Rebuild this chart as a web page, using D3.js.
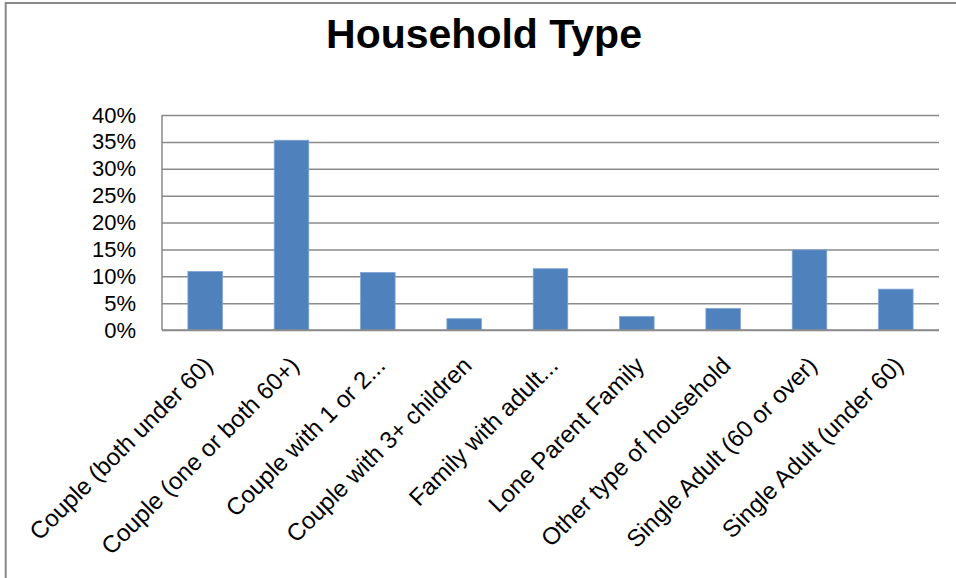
<!DOCTYPE html>
<html>
<head>
<meta charset="utf-8">
<script src="https://cdn.jsdelivr.net/npm/d3@7"></script>
<style>
  html, body { margin: 0; padding: 0; background: #fff; }
  svg { display: block; }
</style>
</head>
<body>
<svg id="chart" width="956" height="578"></svg>
<script>
const title = "Household Type";
const categories = [
  "Couple (both under 60)",
  "Couple (one or both 60+)",
  "Couple with 1 or 2...",
  "Couple with 3+ children",
  "Family with adult...",
  "Lone Parent Family",
  "Other type of household",
  "Single Adult (60 or over)",
  "Single Adult (under 60)"
];
const values = [0.109, 0.353, 0.107, 0.021, 0.114, 0.025, 0.040, 0.149, 0.076];
const yTicks = [0, 0.05, 0.10, 0.15, 0.20, 0.25, 0.30, 0.35, 0.40];

const svg = d3.select("#chart");
const W = 956, H = 578;
const plot = { left: 162, right: 939, top: 115, bottom: 330 };
const font = "'Liberation Sans', Arial, sans-serif";

// outer border
svg.append("rect")
  .attr("x", 5.7).attr("y", 3).attr("width", W + 20).attr("height", H + 20)
  .attr("fill", "#fff").attr("stroke", "#888").attr("stroke-width", 2);

// title
svg.append("text")
  .attr("x", 484).attr("y", 48)
  .attr("text-anchor", "middle")
  .style("font-family", font).style("font-weight", "bold").style("font-size", "41px")
  .attr("fill", "#000")
  .text(title);

const x = d3.scaleBand().domain(categories).range([plot.left, plot.right])
  .paddingInner(0.6).paddingOuter(0.3);
const y = d3.scaleLinear().domain([0, 0.4]).range([plot.bottom, plot.top]);

// gridlines
const grid = svg.append("g").attr("transform", `translate(${plot.left},0)`)
  .call(d3.axisLeft(y).tickValues(yTicks).tickSize(-(plot.right - plot.left)).tickFormat(""));
grid.select(".domain").remove();
grid.selectAll(".tick line").attr("stroke", "#8a8a8a").attr("stroke-width", 1.5);

// y axis line
svg.append("line")
  .attr("x1", plot.left).attr("x2", plot.left)
  .attr("y1", plot.top).attr("y2", plot.bottom)
  .attr("stroke", "#8a8a8a").attr("stroke-width", 1.5);

// y tick labels
const yAxis = svg.append("g").attr("transform", `translate(${plot.left - 26},0)`)
  .call(d3.axisLeft(y).tickValues(yTicks).tickSize(0).tickPadding(0).tickFormat(d3.format(".0%")));
yAxis.select(".domain").remove();
yAxis.selectAll("text")
  .style("font-family", font).style("font-size", "22px").attr("fill", "#000");

// bars
svg.append("g").selectAll("rect").data(values).join("rect")
  .attr("x", (d, i) => x(categories[i]))
  .attr("y", d => y(d))
  .attr("width", x.bandwidth())
  .attr("height", d => y(0) - y(d))
  .attr("fill", "#4f81bd")
  .attr("stroke", "#7ea3d2").attr("stroke-width", 0.8);

// baseline
svg.append("line")
  .attr("x1", plot.left).attr("x2", plot.right)
  .attr("y1", plot.bottom).attr("y2", plot.bottom)
  .attr("stroke", "#8a8a8a").attr("stroke-width", 1.5);

// x labels (rotated)
svg.append("g").selectAll("text").data(categories).join("text")
  .attr("transform", d => `translate(${x(d) + x.bandwidth() / 2 + 3},361) rotate(-45)`)
  .attr("dy", "0.35em")
  .attr("text-anchor", "end")
  .style("font-family", font).style("font-size", "24px")
  .attr("fill", "#000")
  .text(d => d);
</script>
</body>
</html>
